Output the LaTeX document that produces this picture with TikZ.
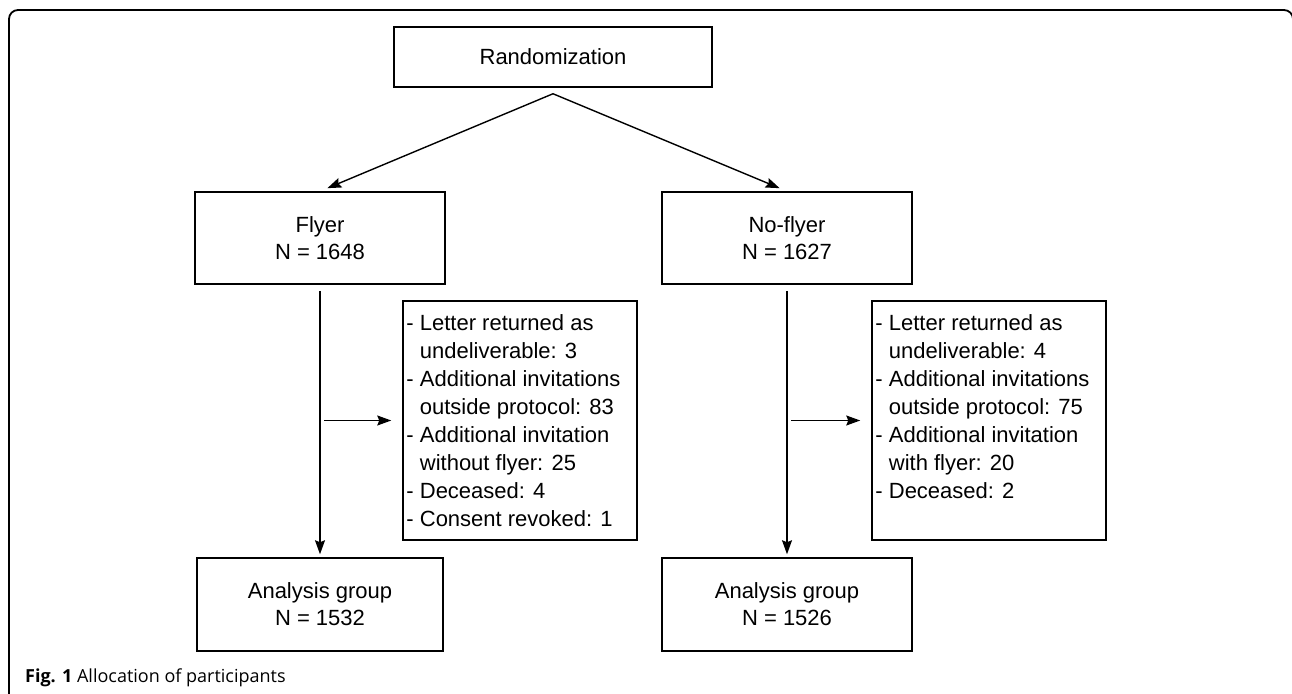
\documentclass[tikz,border=0pt]{standalone}
\usepackage{fontspec}
\setmainfont{Liberation Sans}
\newfontfamily\capfont{Open Sans}
\usetikzlibrary{arrows.meta}
\begin{document}
\begin{tikzpicture}[x=1pt,y=-1pt,
  box/.style={draw=black, line width=1.5pt, inner sep=0pt, align=center,
    font=\fontsize{22}{27}\selectfont},
  detailbox/.style={draw=black, line width=1.5pt, inner sep=0pt,
    minimum width=234pt, minimum height=239pt},
  detailtext/.style={inner sep=0pt, align=left, anchor=north west,
    font=\fontsize{22}{28}\selectfont},
  arr/.style={-{Stealth[length=14pt,width=10pt,inset=2pt]}, line width=1.4pt},
  frame/.style={line width=1.8pt, rounded corners=9pt}
]
\useasboundingbox (0,0) rectangle (1292,693);
\clip (0,0) rectangle (1292,693);
\draw[frame] (9,700) -- (9,10) -- (1293,10) -- (1293,700);

\node[box, minimum width=318pt, minimum height=60pt] (rand) at (553,57) {Randomization};
\node[box, minimum width=250pt, minimum height=92pt] (flyer) at (320,238) {Flyer\\N = 1648};
\node[box, minimum width=250pt, minimum height=92pt] (noflyer) at (787,238) {No-flyer\\N = 1627};
\node[box, minimum width=246pt, minimum height=93pt] (anl1) at (320,604.5) {Analysis group\\N = 1532};
\node[box, minimum width=250pt, minimum height=93pt] (anl2) at (787,604.5) {Analysis group\\N = 1526};

\node[detailbox] (det1) at (520,420.5) {};
\node[detailbox] (det2) at (989,420.5) {};
\node[detailtext] (txt1) at ([xshift=4pt,yshift=-14pt]det1.north west)
  {- Letter returned as\\\phantom{- }undeliverable: 3\\- Additional invitations\\\phantom{- }outside protocol: 83\\- Additional invitation\\\phantom{- }without flyer: 25\\- Deceased: 4\\- Consent revoked: 1};
\node[detailtext] (txt2) at ([xshift=4pt,yshift=-14pt]det2.north west)
  {- Letter returned as\\\phantom{- }undeliverable: 4\\- Additional invitations\\\phantom{- }outside protocol: 75\\- Additional invitation\\\phantom{- }with flyer: 20\\- Deceased: 2};

\coordinate (apex) at ([yshift=-6pt]rand.south);
\draw[arr, shorten >=8pt] (apex) -- (flyer.north);
\draw[arr, shorten >=8pt] (apex) -- (noflyer.north);

\draw[arr, shorten <=6pt, shorten >=3pt] (flyer.south) -- (anl1.north);
\draw[arr, shorten <=6pt, shorten >=3pt] (noflyer.south) -- (anl2.north);

\coordinate (b1) at (flyer.south |- det1.west);
\coordinate (b2) at (noflyer.south |- det2.west);
\draw[arr, shorten <=4pt, shorten >=11pt] (b1) -- (det1.west);
\draw[arr, shorten <=4pt, shorten >=11pt] (b2) -- (det2.west);

\node[anchor=base west, inner sep=0pt, font=\capfont\fontsize{18}{21}\selectfont] (cap) at (25,682)
  {\textbf{Fig. 1} Allocation of participants};
\end{tikzpicture}
\end{document}
